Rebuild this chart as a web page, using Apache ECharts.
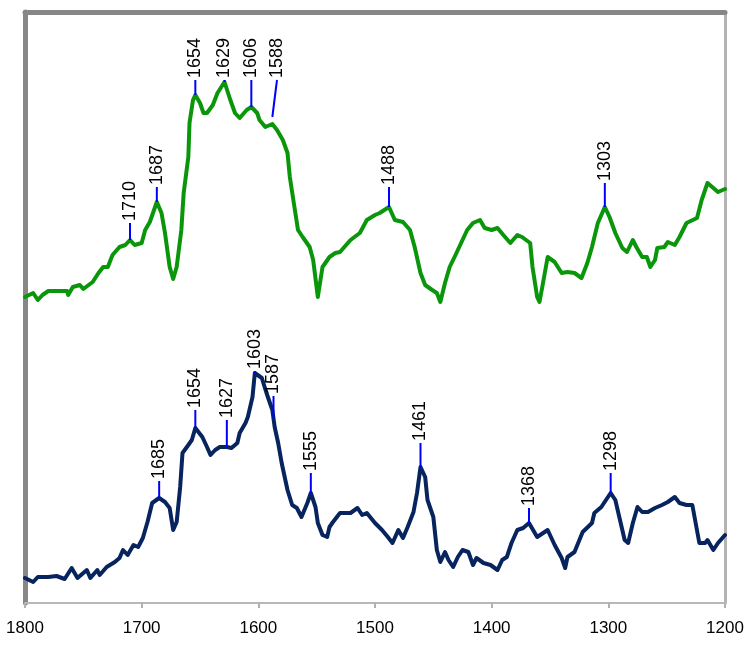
<!DOCTYPE html>
<html>
<head>
<meta charset="utf-8">
<script src="https://cdn.jsdelivr.net/npm/echarts@6/dist/echarts.min.js"></script>
<style>
html,body{margin:0;padding:0;background:#fff;}
#chart{width:750px;height:659px;}
</style>
</head>
<body>
<div id="chart"></div>
<script>
// X-axis ticks (wavenumber, cm-1)
const xTicks = [1800, 1700, 1600, 1500, 1400, 1300, 1200];

// Upper (green) spectrum: wavenumber / intensity (a.u., offset)
const greenX = [1800,1793,1789,1785,1780,1764,1763,1759,1753,1750,1742,1737,1733,1729,1725,1719,1714,1710,1706,1700,1697,1693,1687,1683,1680,1676,1673,1670,1666,1664,1660,1659,1656,1654,1650,1647,1644,1639,1635,1629,1624,1620,1616,1610,1606,1601,1599,1594,1588,1584,1579,1575,1573,1570,1566,1562,1556,1553,1549,1545,1539,1534,1530,1521,1513,1507,1500,1496,1488,1483,1476,1470,1466,1461,1457,1451,1447,1444,1440,1436,1431,1425,1421,1416,1410,1406,1400,1395,1390,1384,1378,1374,1367,1365,1361,1359,1356,1352,1346,1340,1335,1329,1323,1318,1314,1309,1303,1299,1294,1288,1284,1279,1276,1271,1267,1264,1260,1258,1252,1249,1243,1239,1233,1224,1220,1215,1210,1206,1200];
const greenY = [306,310,303,308,312,312,308,316,318,314,321,330,336,336,348,356,358,363,358,360,373,381,401,390,370,336,324,336,373,410,446,480,503,508,500,490,490,498,510,521,503,490,485,493,496,490,483,476,479,473,463,450,426,403,373,366,356,343,306,336,346,350,351,363,370,383,388,390,396,383,381,373,356,330,318,313,310,301,320,336,348,363,373,380,383,375,373,375,368,360,368,366,360,336,306,301,320,346,341,330,331,330,325,340,356,380,396,386,370,355,351,363,356,346,346,336,343,355,356,361,358,366,380,385,403,420,415,411,414];

// Lower (navy) spectrum
const navyX = [1800,1793,1789,1780,1773,1766,1760,1755,1747,1744,1738,1736,1730,1723,1719,1716,1712,1707,1703,1699,1695,1691,1685,1680,1676,1673,1670,1667,1665,1660,1657,1654,1648,1644,1641,1637,1633,1627,1623,1618,1616,1611,1609,1605,1603,1597,1593,1588,1586,1583,1580,1575,1571,1567,1563,1558,1555,1551,1549,1545,1541,1539,1536,1530,1521,1515,1511,1507,1500,1494,1489,1485,1480,1476,1472,1467,1464,1461,1457,1455,1450,1447,1444,1440,1437,1433,1429,1425,1420,1416,1413,1407,1401,1395,1391,1387,1383,1378,1373,1368,1361,1352,1346,1340,1337,1335,1329,1322,1314,1312,1306,1298,1294,1290,1286,1283,1279,1275,1271,1266,1260,1254,1249,1243,1239,1233,1228,1222,1217,1215,1210,1206,1200];
const navyY = [25,21,26,26,27,24,35,25,33,25,33,28,36,41,45,53,48,58,56,65,81,100,105,101,95,73,81,116,150,158,163,175,166,156,148,153,156,156,155,160,170,180,186,206,230,225,210,193,176,160,140,113,98,95,86,100,110,96,80,68,66,76,81,90,90,95,88,90,80,73,66,60,73,65,76,91,110,136,126,103,86,53,41,51,43,36,46,53,51,38,45,40,38,33,43,46,60,73,75,80,66,73,58,45,35,46,51,71,80,90,96,110,103,83,63,60,80,96,91,91,95,98,101,106,100,98,98,60,60,63,53,60,68];

// Peak annotations
const greenPeaks = [1710, 1687, 1654, 1629, 1606, 1588, 1488, 1303];
const greenLabelX = [1710, 1687, 1654, 1629, 1606, 1584, 1488, 1303];
const greenLabelLevel = [380, 416, 523, 523, 523, 523, 416, 420];
const navyPeaks = [1685, 1654, 1627, 1603, 1587, 1555, 1461, 1368, 1298];
const navyLabelX = [1685, 1654, 1627, 1603, 1587, 1555, 1461, 1368, 1298];
const navyLabelLevel = [122, 193, 183, 232, 207, 130, 160, 95, 130];

function interp(xs, ys, x) {
  for (let i = 0; i < xs.length - 1; i++) {
    const a = xs[i], b = xs[i + 1];
    if ((x <= a && x >= b)) {
      const t = (a === b) ? 0 : (a - x) / (a - b);
      return ys[i] + t * (ys[i + 1] - ys[i]);
    }
  }
  return ys[ys.length - 1];
}
const zip = (xs, ys) => xs.map((x, i) => [x, ys[i]]);

const peakData = [];
const peakText = [];
greenPeaks.forEach((p, i) => {
  const base = interp(greenX, greenY, p) + (p === 1588 ? 7 : 0);
  peakData.push([p, greenLabelX[i], base, greenLabelLevel[i]]);
  peakText.push(String(p));
});
navyPeaks.forEach((p, i) => {
  const base = interp(navyX, navyY, p);
  peakData.push([p, navyLabelX[i], base, navyLabelLevel[i]]);
  peakText.push(String(p));
});

const chart = echarts.init(document.getElementById('chart'), null, {renderer: 'canvas'});
const FONT = '"Liberation Sans", Arial, sans-serif';
chart.setOption({
  animation: false,
  backgroundColor: '#ffffff',
  grid: {left: 25, right: 25, top: 12, bottom: 56, containLabel: false,
    show: true, borderColor: '#b4b4b4', borderWidth: 2, backgroundColor: 'transparent'},
  xAxis: [{
    type: 'value', min: 1200, max: 1800, interval: 100, inverse: true, position: 'bottom',
    axisLine: {show: true, onZero: false, lineStyle: {color: '#b8b8b8', width: 2}},
    axisTick: {show: true, length: 5, lineStyle: {color: '#b0b0b0', width: 2}},
    axisLabel: {show: true, color: '#000', fontSize: 17, fontFamily: FONT, margin: 17,
      formatter: v => xTicks.includes(v) ? String(v) : ''},
    splitLine: {show: false}
  }, {
    type: 'value', min: 1200, max: 1800, interval: 100, inverse: true, position: 'top',
    axisLine: {show: true, onZero: false, lineStyle: {color: '#878787', width: 5}},
    axisTick: {show: false}, axisLabel: {show: false}, splitLine: {show: false}
  }],
  yAxis: [{
    type: 'value', min: 0, max: 591, position: 'left',
    axisLine: {show: true, onZero: false, lineStyle: {color: '#878787', width: 5}},
    axisTick: {show: false}, axisLabel: {show: false}, splitLine: {show: false}
  }, {
    type: 'value', min: 0, max: 591, position: 'right',
    axisLine: {show: true, onZero: false, lineStyle: {color: '#b4b4b4', width: 3}},
    axisTick: {show: false}, axisLabel: {show: false}, splitLine: {show: false}
  }],
  series: [{
    type: 'line', data: zip(greenX, greenY), showSymbol: false, symbol: 'none',
    lineStyle: {color: '#0a960a', width: 4, join: 'round', cap: 'round'}, z: 3
  }, {
    type: 'line', data: zip(navyX, navyY), showSymbol: false, symbol: 'none',
    lineStyle: {color: '#07245e', width: 4, join: 'round', cap: 'round'}, z: 3
  }, {
    type: 'custom', data: peakData, clip: false, z: 5,
    encode: {x: [0, 1], y: [2, 3]},
    renderItem: function (params, api) {
      const p0 = api.coord([api.value(0), api.value(2)]);
      const p1 = api.coord([api.value(1), api.value(3)]);
      return {
        type: 'group',
        children: [{
          type: 'line',
          shape: {x1: p0[0], y1: p0[1], x2: p1[0], y2: p1[1]},
          style: {stroke: '#0000ff', lineWidth: 2}
        }, {
          type: 'text',
          x: p1[0], y: p1[1] - 2, rotation: Math.PI / 2,
          style: {text: peakText[params.dataIndex], fill: '#000', fontSize: 18,
            fontFamily: FONT, align: 'left', verticalAlign: 'middle'}
        }]
      };
    }
  }]
});
</script>
</body>
</html>
